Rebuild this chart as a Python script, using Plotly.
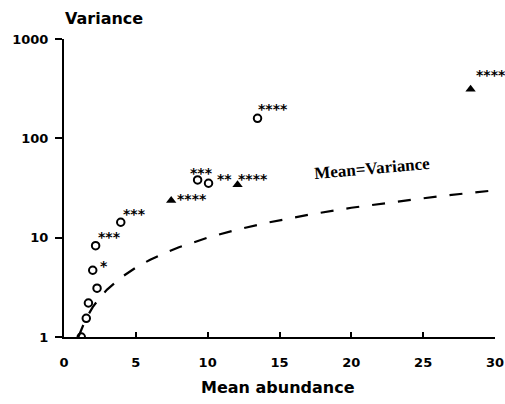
import numpy as np
import plotly.graph_objects as go

# ---- data ----
circle_mean = [1.2, 1.55, 1.7, 2.3, 2.0, 2.2, 3.95, 9.3, 10.06, 13.47]
circle_var = [1.0, 1.54, 2.2, 3.1, 4.7, 8.3, 14.3, 38.1, 35.3, 159]
circle_sig = ["", "", "", "", "*", "***", "***", "***", "**", "****"]

tri_mean = [7.46, 12.08, 28.3]
tri_var = [23.6, 34.0, 312]
tri_sig = ["****", "****", "****"]

# Mean = Variance reference line (identity)
identity_vals = [1, 1.25, 1.5, 2, 2.5, 3, 4, 5, 6, 7, 8, 10, 12, 14, 17, 20, 23, 26, 30]

x_ticks = [0, 5, 10, 15, 20, 25, 30]
y_ticks = [1, 10, 100, 1000]

# label offsets (pixels: left-edge dx, upward dy) - styling only
circle_off = [None, None, None, None, (6, 8), (1, 13), (1, 12), (-9, 11), (7, 8), (-1, 13)]
tri_off = [(5, 6), (-1, 10), (4, 18)]

fig = go.Figure()

fig.add_trace(go.Scatter(
    x=identity_vals, y=identity_vals, mode="lines",
    line=dict(color="black", width=2.2, dash="13px,13px"),
    hoverinfo="skip", showlegend=False))

fig.add_trace(go.Scatter(
    x=circle_mean, y=circle_var, mode="markers",
    marker=dict(symbol="circle-open", size=7.5, color="black", line=dict(width=2, color="black")),
    showlegend=False))

fig.add_trace(go.Scatter(
    x=tri_mean, y=tri_var, mode="markers",
    marker=dict(symbol="triangle-up", size=9, color="black"),
    showlegend=False))

ASTER_ADJ = -4
for xs, ys, labs, offs in [(circle_mean, circle_var, circle_sig, circle_off),
                           (tri_mean, tri_var, tri_sig, tri_off)]:
    for x, y, lab, off in zip(xs, ys, labs, offs):
        if not lab:
            continue
        fig.add_annotation(x=x, y=np.log10(y), xref="x", yref="y", text=f"<b>{lab}</b>",
                           showarrow=False, xanchor="left", yanchor="middle",
                           xshift=off[0], yshift=off[1] + ASTER_ADJ,
                           font=dict(family="DejaVu Sans", size=14, color="black"),
                           borderpad=0)

fig.add_annotation(x=(311 - 64) / 431, y=1 - (168 - 39) / 298,
                   xref="paper", yref="paper", text="<b>Mean=Variance</b>",
                   showarrow=False, xanchor="left", yanchor="middle", textangle=-5,
                   font=dict(family="Liberation Serif", size=17, color="black"))

fig.add_annotation(x=-0.002, y=1.0, xref="paper", yref="paper", text="<b>Variance</b>",
                   showarrow=False, xanchor="left", yanchor="middle", yshift=39 - 18,
                   font=dict(family="DejaVu Sans", size=16, color="black"))

fig.add_annotation(x=(278 - 64) / 431, y=0, xref="paper", yref="paper",
                   text="<b>Mean abundance</b>", showarrow=False,
                   xanchor="center", yanchor="middle", yshift=-(387 - 337),
                   font=dict(family="DejaVu Sans", size=16, color="black"))

fig.update_xaxes(range=[0, 30], tickvals=x_ticks, ticktext=[f"<b>{v}</b>" for v in x_ticks],
                 showgrid=False, zeroline=False, showline=True, linecolor="black", linewidth=2,
                 ticks="inside", ticklen=5, tickwidth=1.5, tickcolor="black",
                 ticklabelstandoff=12, automargin=False,
                 tickfont=dict(family="DejaVu Sans", size=13, color="black"))
fig.update_yaxes(type="log", range=[0, 3], tickvals=y_ticks,
                 ticktext=[f"<b>{v}</b>" for v in y_ticks],
                 showgrid=False, zeroline=False, showline=True, linecolor="black", linewidth=2,
                 ticks="outside", ticklen=7, tickwidth=1.5, tickcolor="black",
                 ticklabelstandoff=4, automargin=False,
                 tickfont=dict(family="DejaVu Sans", size=13, color="black"))

fig.update_layout(width=505, height=404, margin=dict(l=64, r=10, t=39, b=67, autoexpand=False),
                  plot_bgcolor="white", paper_bgcolor="white", showlegend=False)

fig.write_html("out.html", config={"displayModeBar": False},
               post_script="document.body.style.margin='0';document.body.style.overflow='hidden';")
